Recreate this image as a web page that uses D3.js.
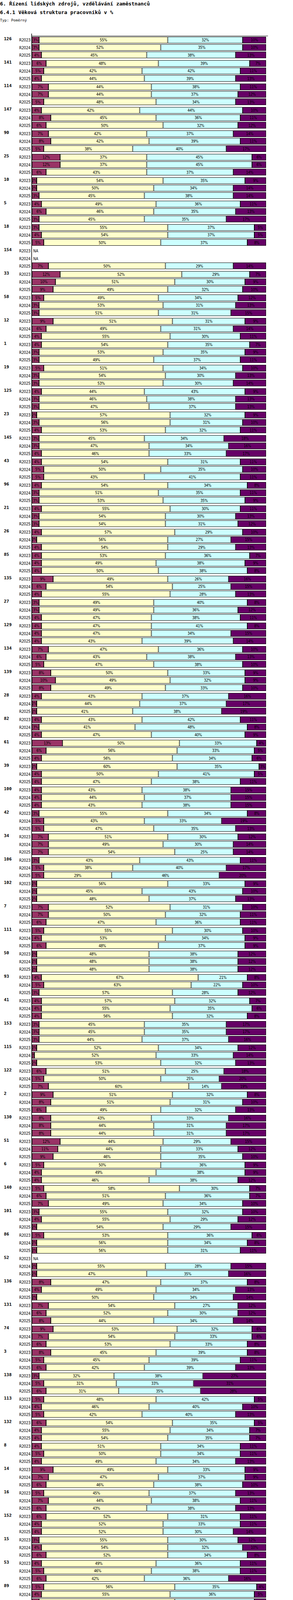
<!DOCTYPE html>
<html><head><meta charset="utf-8">
<script src="https://cdn.jsdelivr.net/npm/d3@7"></script>
<style>body{margin:0;background:#fff}</style>
</head><body>
<script>
const groups=["126","141","114","147","90","25","10","5","18","154","33","58","12","1","19","125","23","145","43","96","21","26","85","135","27","129","134","139","28","82","61","39","100","42","34","106","102","7","111","50","93","41","153","115","122","2","130","51","6","140","101","86","52","136","131","74","3","138","113","132","8","14","16","152","15","53","89","56","13","146","9","118","60","112","67","144","121","88","75"];
const periods=["R2023","R2024","R2025"];
const n=null;
// one line of three periods per group, in the order of `groups`
const u30=[3,3,4, 6,5,4, 7,7,5, 4,8,6, 7,8,5, 12,12,6, 2,2,3, 4,6,3, 3,4,5, n,n,7,
12,10,9, 5,3,3, 9,6,4, 4,3,3, 5,3,3, 4,3,3, 2,3,4, 3,3,4, 4,5,5, 4,3,3,
4,3,3, 4,2,4, 4,4,4, 9,6,4, 3,3,4, 4,4,4, 7,6,5, 8,10,8, 4,2,2, 4,3,4,
13,6,4, 2,4,4, 4,4,4, 3,5,5, 7,7,7, 3,5,5, 2,2,2, 7,7,6, 5,4,6, 2,2,2,
4,5,3, 4,4,4, 3,3,3, 2,1,2, 6,5,7, 9,8,6, 8,8,8, 12,11,9, 5,4,4, 5,6,7,
3,4,2, 5,2,2, n,2,2, 8,4,2, 7,6,8, 9,7,6, 8,5,6, 3,5,6, 5,4,5, 6,4,4,
4,5,4, 9,7,6, 5,7,6, 6,4,4, 3,4,6, 4,5,6, 5,4,3, 4,4,4, 4,6,5, 4,4,5,
8,6,5, 6,6,8, 11,13,16, 7,5,5, n,n,7, 3,5,5, 7,6,1, 7,3,1, 1,1,0];
const a3150=[55,52,45, 48,42,44, 44,44,48, 42,45,50, 42,42,38, 37,37,43, 54,50,45, 49,46,45, 55,54,50, n,n,50,
52,51,49, 49,53,51, 51,49,55, 54,53,49, 51,54,53, 44,46,47, 57,56,53, 45,47,46, 54,50,43, 54,51,53,
55,54,54, 57,56,54, 53,49,50, 49,54,55, 49,49,47, 47,47,43, 47,43,47, 50,49,49, 43,44,41, 43,41,47,
50,56,56, 60,50,47, 43,44,43, 55,43,47, 51,49,54, 43,38,29, 56,45,48, 52,50,47, 55,53,48, 48,48,48,
67,63,57, 57,55,56, 45,45,44, 52,52,53, 51,50,60, 51,51,49, 43,44,44, 44,44,46, 50,49,46, 58,51,49,
55,55,54, 53,56,56, n,55,47, 47,49,50, 54,52,44, 53,54,53, 45,45,42, 32,31,31, 48,46,42, 54,55,54,
51,50,49, 49,47,46, 45,44,43, 52,52,52, 55,54,52, 49,46,42, 56,55,58, 46,39,45, 56,40,43, 50,47,45,
46,44,40, 39,37,40, 67,53,54, 57,56,56, n,n,45, 59,53,51, 56,48,51, 43,43,38, 51,42,41];
const a5160=[32,35,38, 39,42,39, 38,37,34, 44,36,32, 37,39,40, 45,45,37, 35,34,38, 36,35,35, 37,37,37, n,n,29,
29,30,32, 34,31,31, 31,31,30, 35,35,37, 34,30,30, 43,38,37, 32,31,32, 34,34,33, 31,35,41, 34,35,35,
30,30,31, 29,27,29, 36,38,38, 26,25,28, 40,36,38, 41,34,39, 36,38,38, 33,32,33, 37,37,38, 42,48,40,
33,33,34, 35,41,38, 38,37,38, 34,33,35, 30,30,25, 43,40,46, 33,43,37, 31,32,36, 30,34,37, 38,38,38,
21,22,28, 32,35,32, 35,35,37, 34,33,32, 25,25,14, 32,31,32, 33,31,31, 29,33,35, 36,38,38, 30,36,34,
32,29,29, 36,34,31, n,28,35, 37,34,34, 27,30,34, 32,33,33, 39,39,39, 38,33,35, 42,40,40, 35,34,35,
34,34,34, 33,37,38, 37,38,38, 31,33,30, 30,32,34, 36,38,36, 35,36,34, 41,46,41, 31,38,38, 35,36,33,
37,41,44, 42,39,33, 15,23,21, 27,27,28, n,n,43, 35,37,37, 33,41,44, 37,36,44, 44,50,51];
const o61=[10,10,13, 7,11,13, 11,12,13, 10,11,12, 14,11,17, 6,6,14, 9,14,14, 11,13,17, 5,5,8, n,n,14,
7,9,10, 12,13,15, 9,14,11, 7,9,11, 10,13,14, 9,13,13, 9,10,11, 18,16,17, 11,10,11, 8,11,9,
11,13,12, 10,15,13, 7,9,8, 16,15,13, 8,12,11, 8,15,14, 10,13,10, 9,9,10, 16,17,19, 11,8,9,
4,5,6, 3,5,11, 15,15,15, 8,19,13, 12,14,14, 11,17,20, 9,10,13, 10,11,11, 10,9,9, 12,12,12,
8,10,12, 7,6,8, 17,17,16, 12,14,13, 18,20,19, 8,10,13, 16,17,17, 15,12,10, 9,9,12, 7,7,10,
10,12,15, 6,8,11, n,15,16, 8,13,14, 12,12,14, 6,6,8, 8,11,13, 27,31,28, 5,10,13, 5,7,7,
11,11,13, 9,9,10, 13,11,13, 11,11,14, 12,10,8, 11,11,16, 4,5,5, 9,11,10, 9,16,14, 11,13,17,
9,9,11, 13,18,19, 7,11,9, 9,12,11, n,n,5, 3,5,7, 4,5,4, 13,18,17, 4,7,8];
const seriesNames=["Počet zaměstnanců ve věku do 30 let","Počet zaměstnanců ve věku 31 - 50 let","Počet zaměstnanců ve věku 51-60 let","Počet zaměstnanců ve věku 61 let a výše"];
const colors=["#993366","#FFFFCC","#CCFFFF","#660066"];
const periodNotes=[["Období[R2023]: Realita - 2023","#2ca02c"],["Období[R2024]: Realita - 2024","#ff7f0e"],["Období[R2025]: Realita - 2025","#1f77b4"]];

const W=750,H=5002;
const svg=d3.select("body").append("svg").attr("width",W).attr("height",H);
const mono="'DejaVu Sans Mono', monospace";
svg.append("text").attr("x",0).attr("y",14).attr("font-family",mono).attr("font-weight","bold").attr("font-size",13).text("6. Řízení lidských zdrojů, vzdělávání zaměstnanců");
svg.append("text").attr("x",0).attr("y",36).attr("font-family",mono).attr("font-weight","bold").attr("font-size",13).text("6.4.1 Věková struktura pracovníků v %");
svg.append("text").attr("x",0).attr("y",55).attr("font-family",mono).attr("font-size",9.5).text("Typ: Poměrný");

const x=d3.scaleLinear().domain([0,100]).range([82,681]);
const yG=d3.scaleBand().domain(groups).range([91,91+60*groups.length]).paddingInner(0);
const yP=d3.scaleBand().domain(periods).range([0,54]).paddingInner(3/18).paddingOuter(0);
const series=[u30,a3150,a5160,o61];

const rows=[];
groups.forEach((g,gi)=>periods.forEach((p,pi)=>{
  const i=gi*3+pi;
  const v=series.map(s=>s[i]);
  rows.push({g,p,v});
}));

const gsel=svg.selectAll("g.grp").data(groups).join("g").attr("transform",g=>`translate(0,${yG(g)})`);
gsel.append("text").attr("x",10).attr("y",yP("R2023")+yP.bandwidth()/2+4).attr("font-family",mono).attr("font-weight","bold").attr("font-size",11).text(g=>g);

rows.forEach(r=>{
  const y0=yG(r.g)+yP(r.p)+3, h=yP.bandwidth()+1;
  svg.append("text").attr("x",78).attr("y",y0+h/2+4).attr("text-anchor","end").attr("font-family","'DejaVu Sans Condensed','DejaVu Sans'").attr("font-size",10.5).attr("letter-spacing",-0.3).text(r.p);
  if(r.v[0]===null){
    svg.append("text").attr("x",85).attr("y",y0+h/2+4).attr("font-family","'DejaVu Sans Condensed','DejaVu Sans'").attr("font-size",10).text("NA");
    return;
  }
  const tot=d3.sum(r.v);let c=0;
  r.v.forEach((val,k)=>{
    if(!val)return;
    const xa=x(c/tot*100), xb=x((c+val)/tot*100); c+=val;
    const s=svg.append("svg").attr("x",xa).attr("y",y0).attr("width",xb-xa).attr("height",h);
    s.append("rect").attr("x",0.5).attr("y",0.5).attr("width",Math.max(0,xb-xa-1)).attr("height",h-1).attr("fill",colors[k]).attr("stroke","#000").attr("stroke-width",1);
    s.append("text").attr("x",(xb-xa)/2).attr("y",h/2+4).attr("text-anchor","middle").attr("font-family","'DejaVu Sans Condensed','DejaVu Sans'").attr("font-size",10).attr("letter-spacing",-0.5).attr("fill","#000").text(val+"%");
  });
});

svg.append("line").attr("x1",81).attr("x2",81).attr("y1",86).attr("y2",4832).attr("stroke","#000").attr("stroke-width",1.5);
svg.append("line").attr("x1",81).attr("x2",686).attr("y1",92).attr("y2",92).attr("stroke","#000").attr("stroke-width",1);

const leg=svg.selectAll("g.leg").data(seriesNames).join("g").attr("transform",(d,i)=>`translate(45,${4853+i*20})`);
leg.append("rect").attr("width",7).attr("height",8).attr("y",0).attr("fill",(d,i)=>colors[i]).attr("stroke","#000");
leg.append("text").attr("x",15).attr("y",8).attr("font-family","'DejaVu Sans Condensed','DejaVu Sans'").attr("font-size",11).text(d=>d);
periodNotes.forEach((pn,i)=>{
  svg.append("text").attr("x",i===1?380:80).attr("y",i===2?4968:4948).attr("font-family","'DejaVu Sans Condensed','DejaVu Sans'").attr("font-size",11).attr("fill",pn[1]).text(pn[0]);
});
</script>
</body></html>
